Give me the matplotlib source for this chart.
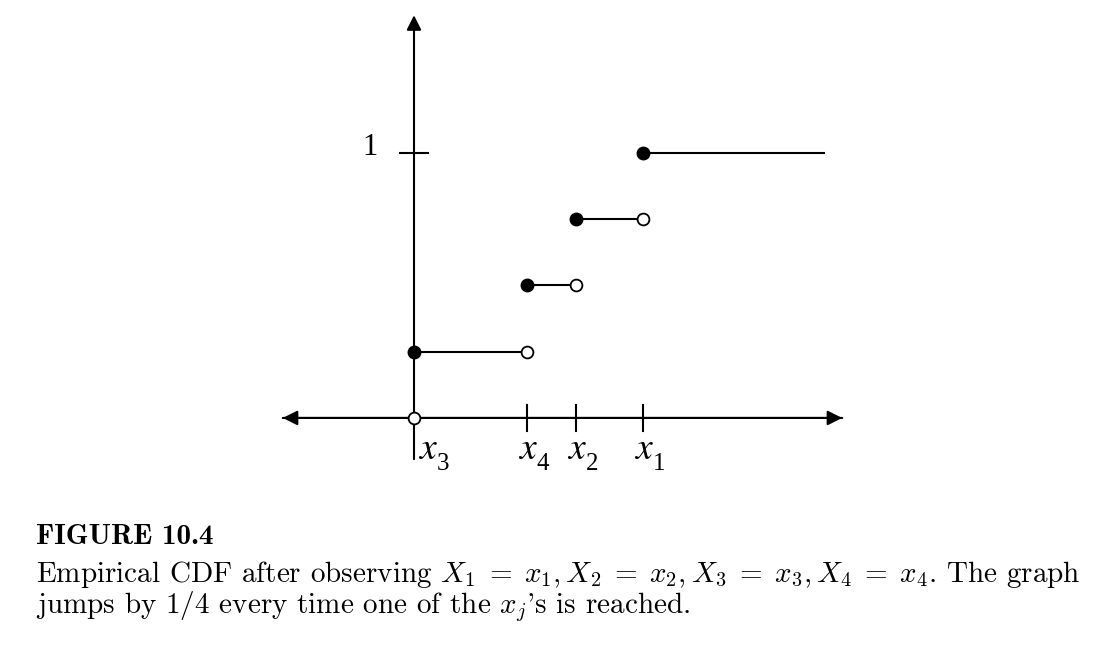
import matplotlib.pyplot as plt
from matplotlib.patches import FancyArrowPatch

plt.rcParams['mathtext.fontset'] = 'cm'
plt.rcParams['font.family'] = ['Liberation Serif', 'DejaVu Serif']

# jump points (sorted) and the CDF level after each one
xs = [0.0, 1.13, 1.62, 2.29]
subs = ["3", "4", "2", "1"]
levels = [0.25, 0.5, 0.75, 1.0]
x_end = 4.10  # where the last flat piece stops

fig = plt.figure(figsize=(11.12, 6.48), dpi=100)
ax = fig.add_axes([0, 0, 1, 1])
ax.set_xlim(-4.14, 6.98)
ax.set_ylim(-0.868, 1.577)
ax.axis("off")

lw = 1.5
# axes with arrows
ax.add_patch(FancyArrowPatch((4.31, 0), (-1.34, 0), arrowstyle="-|>",
                             mutation_scale=22, lw=lw, color="black"))
ax.add_patch(FancyArrowPatch((-1.34, 0), (4.31, 0), arrowstyle="-|>",
                             mutation_scale=22, lw=lw, color="black"))
ax.add_patch(FancyArrowPatch((0, -0.166), (0, 1.53), arrowstyle="-|>",
                             mutation_scale=22, lw=lw, color="black"))

# tick at 1
ax.plot([-0.14, 0.14], [1, 1], color="black", lw=lw)
ax.text(-0.44, 1.02, "1", fontsize=22, ha="center", va="center")

# ticks on x axis, labels as italic x plus a low subscript
for x, s in zip(xs, subs):
    dx = 0.04 if x == 0 else -0.09
    if x != 0:
        ax.plot([x, x], [-0.05, 0.05], color="black", lw=lw)
    ax.text(x + dx, -0.12, "$x$", fontsize=27, math_fontfamily="stix",
            ha="left", va="center")
    ax.text(x + dx + 0.185, -0.175, s, fontsize=18, ha="left", va="center")

# steps
ends = xs[1:] + [x_end]
for x0, x1, y in zip(xs, ends, levels):
    ax.plot([x0, x1], [y, y], color="black", lw=lw, zorder=2)
    ax.plot(x0, y, "o", ms=9, color="black", zorder=3)
    if x1 != x_end:
        ax.plot(x1, y, "o", ms=8.5, mfc="white", mec="black", mew=1.3, zorder=3)
# open circle at origin (CDF is 0 there)
ax.plot(xs[0], 0, "o", ms=8.5, mfc="white", mec="black", mew=1.3, zorder=3)

# caption (Computer Modern)
fig.text(36 / 1112, 1 - 537 / 648, "FIGURE 10.4", fontsize=21, family="cmb10",
         ha="left", va="center")
fig.text(36 / 1112, 1 - 574 / 648,
         r"Empirical CDF after observing $X_1\;=\;x_1, X_2\;=\;x_2, X_3\;=\;x_3, X_4\;=\;x_4$. The graph",
         fontsize=21, family="cmr10", ha="left", va="center")
fig.text(36 / 1112, 1 - 607 / 648,
         r"jumps by 1/4 every time one of the $x_j$'s is reached.",
         fontsize=21, family="cmr10", ha="left", va="center")

fig.savefig("out.png", dpi=100)
